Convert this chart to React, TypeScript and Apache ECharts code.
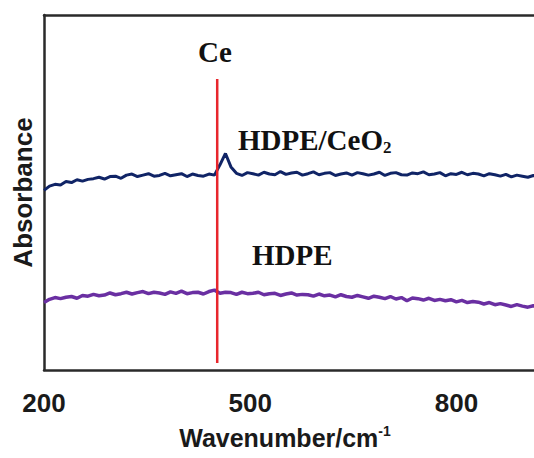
import React, { useEffect, useRef } from "react";
import * as echarts from "echarts";

const wavenumbers = [
  200, 208, 216, 224, 232, 240, 248, 256, 264, 272, 280, 288, 296, 304, 312, 320,
  328, 336, 344, 352, 360, 368, 376, 384, 392, 400, 408, 416, 424, 432, 440, 448,
  456, 464, 472, 480, 488, 496, 504, 512, 520, 528, 536, 544, 552, 560, 568, 576,
  584, 592, 600, 608, 616, 624, 632, 640, 648, 656, 664, 672, 680, 688, 696, 704,
  712, 720, 728, 736, 744, 752, 760, 768, 776, 784, 792, 800, 808, 816, 824, 832,
  840, 848, 856, 864, 872, 880, 888, 896, 904, 912, 920, 928, 936,
];

const hdpeCeO2 = [
  50.6, 51.8, 52.3, 52.1, 53.1, 52.8, 53.6, 53.2, 53.7, 53.9, 54.3, 53.8, 54.5, 54.6, 54.0, 54.9,
  55.2, 54.5, 54.9, 55.3, 54.6, 54.8, 55.4, 54.7, 55.0, 55.3, 54.5, 55.2, 54.8, 54.6, 55.2, 54.9,
  57.8, 61.0, 57.2, 55.4, 54.8, 55.6, 55.3, 54.9, 55.7, 55.2, 55.0, 55.9, 55.1, 55.5, 55.7, 54.9,
  55.3, 55.8, 55.0, 55.4, 55.6, 54.8, 55.2, 55.5, 54.9, 55.6, 55.3, 54.9, 55.2, 55.7, 54.8, 55.4,
  55.6, 55.0, 54.9, 55.5, 55.3, 55.8, 55.0, 55.2, 55.6, 54.7, 55.3, 55.1, 55.7, 55.0, 55.4, 55.2,
  54.7, 55.3, 55.0, 54.6, 55.1, 54.4, 54.9, 54.6, 54.3, 54.8, 54.4, 54.5, 54.2,
];

const hdpe = [
  19.0, 19.9, 20.4, 20.1, 20.5, 20.7, 20.2, 21.0, 20.8, 21.3, 20.9, 21.1, 21.7, 21.2, 21.5, 21.9,
  21.4, 21.8, 22.1, 21.5, 21.9, 21.7, 21.3, 22.0, 21.6, 22.2, 21.5, 21.8, 21.9, 21.4, 22.1, 22.5,
  21.6, 21.9, 21.8, 21.3, 21.9, 21.5, 21.6, 21.9, 21.2, 21.5, 21.6, 21.0, 21.4, 21.7, 21.1, 21.3,
  21.2, 20.8, 21.4, 20.9, 21.1, 20.6, 21.2, 20.7, 20.5, 21.0, 20.6, 20.2, 20.8, 20.5, 20.1, 20.7,
  20.0, 20.4, 19.5, 20.3, 20.1, 19.7, 20.2, 19.6, 19.9, 19.5, 19.8, 19.2, 19.6, 19.0, 19.3, 19.1,
  18.6, 19.0, 18.4, 18.7, 18.3, 17.9, 18.4, 18.0, 17.7, 18.1, 17.5, 17.8, 17.4,
];

const ceMarkerX = [452, 452];
const ceMarkerY = [2, 82];

const xTickLabels = ["200", "500", "800"];

const SANS = "'Liberation Sans', Arial, sans-serif";
const SERIF = "'Liberation Serif', 'Times New Roman', serif";

export default function App() {
  const ref = useRef<HTMLDivElement>(null);

  useEffect(() => {
    if (!ref.current) return;
    const chart = echarts.init(ref.current, null, { renderer: "svg" });
    const toPairs = (xs: number[], ys: number[]) => xs.map((x, i) => [x, ys[i]]);
    const axisLineStyle = { color: "#2a2a2a", width: 2.5 };

    chart.setOption({
      animation: false,
      backgroundColor: "#ffffff",
      grid: {
        left: 44,
        top: 15,
        right: -20,
        bottom: 88,
        show: false,
        outerBoundsMode: "none",
      },
      xAxis: [
        {
          type: "value",
          min: 200,
          max: 942,
          interval: 300,
          axisLine: { show: true, lineStyle: axisLineStyle },
          axisTick: { show: false },
          splitLine: { show: false },
          axisLabel: {
            margin: 20,
            fontSize: 26,
            fontWeight: "bold",
            fontFamily: SANS,
            color: "#1a1a1a",
            showMaxLabel: false,
            formatter: (v: number) => (xTickLabels.includes(String(v)) ? String(v) : ""),
          },
        },
        {
          type: "value",
          position: "top",
          min: 200,
          max: 942,
          axisLine: { show: true, lineStyle: axisLineStyle },
          axisTick: { show: false },
          axisLabel: { show: false },
          splitLine: { show: false },
        },
      ],
      yAxis: {
        type: "value",
        min: 0,
        max: 100,
        name: "Absorbance",
        nameLocation: "middle",
        nameGap: 8,
        nameTextStyle: {
          fontSize: 26,
          fontWeight: "bold",
          fontFamily: SANS,
          color: "#1a1a1a",
        },
        axisLine: { show: true, lineStyle: axisLineStyle },
        axisTick: { show: false },
        axisLabel: { show: false },
        splitLine: { show: false },
      },
      series: [
        {
          name: "HDPE/CeO2",
          type: "line",
          data: toPairs(wavenumbers, hdpeCeO2),
          showSymbol: false,
          lineStyle: { color: "#102466", width: 3 },
          z: 3,
        },
        {
          name: "HDPE",
          type: "line",
          data: toPairs(wavenumbers, hdpe),
          showSymbol: false,
          lineStyle: { color: "#6a2fa2", width: 3.5 },
          z: 3,
        },
        {
          name: "Ce",
          type: "line",
          data: toPairs(ceMarkerX, ceMarkerY),
          showSymbol: false,
          lineStyle: { color: "#e8262c", width: 2.5 },
          z: 4,
        },
      ],
      graphic: [
        {
          type: "text",
          x: 215,
          y: 52,
          style: {
            text: "Ce",
            fontSize: 29,
            fontWeight: "bold",
            fontFamily: SERIF,
            fill: "#111111",
            align: "center",
            verticalAlign: "middle",
          },
        },
        {
          type: "text",
          x: 238,
          y: 140,
          style: {
            text: "{a|HDPE/CeO}{b|2}",
            fill: "#111111",
            align: "left",
            verticalAlign: "middle",
            rich: {
              a: { fontSize: 29, fontWeight: "bold", fontFamily: SERIF, fill: "#111111", lineHeight: 32 },
              b: { fontSize: 17, fontWeight: "bold", fontFamily: SERIF, fill: "#111111", verticalAlign: "bottom", lineHeight: 32, padding: [8, 0, 0, 0] },
            },
          },
        },
        {
          type: "text",
          x: 252,
          y: 255,
          style: {
            text: "HDPE",
            fontSize: 29,
            fontWeight: "bold",
            fontFamily: SERIF,
            fill: "#111111",
            align: "left",
            verticalAlign: "middle",
          },
        },
        {
          type: "text",
          x: 285,
          y: 438,
          style: {
            text: "{a|Wavenumber/cm}{b|-1}",
            align: "center",
            verticalAlign: "middle",
            fill: "#1a1a1a",
            rich: {
              a: { fontSize: 25, fontWeight: "bold", fontFamily: SANS, fill: "#1a1a1a", lineHeight: 28 },
              b: { fontSize: 14, fontWeight: "bold", fontFamily: SANS, fill: "#1a1a1a", verticalAlign: "top", lineHeight: 28, padding: [0, 0, 10, 0] },
            },
          },
        },
      ],
    });

    return () => chart.dispose();
  }, []);

  return (
    <div
      ref={ref}
      style={{ position: "fixed", left: 0, top: 0, width: 534, height: 458 }}
    />
  );
}
